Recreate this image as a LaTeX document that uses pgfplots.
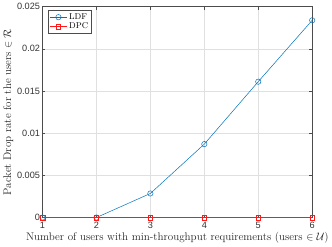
\documentclass[border=0pt]{standalone}
\usepackage{pgfplots}
\pgfplotsset{compat=1.18}
\usepackage{fontspec}
\newfontfamily\tickfont{Liberation Sans}
\definecolor{mblue}{rgb}{0,0.447,0.741}
\definecolor{mred}{rgb}{1,0.1,0.1}
\begin{document}
\begin{tikzpicture}
\begin{axis}[
  scale only axis,
  width=271pt, height=212pt,
  xmin=1, xmax=6, ymin=0, ymax=0.025,
  xtick={1,2,3,4,5,6},
  ytick={0,0.005,0.01,0.015,0.02,0.025},
  scaled y ticks=false,
  yticklabel style={/pgf/number format/fixed,/pgf/number format/precision=3, xshift=1pt},
  xticklabel style={yshift=-1pt},
  /pgf/number format/assume math mode=true,
  ticklabel style={font=\tickfont\fontsize{9.2}{10}\selectfont, text=black!80},
  tick align=inside,
  major tick length=3pt,
  tick style={black!70, line width=0.4pt},
  axis line style={black!70, line width=0.5pt},
  grid=major,
  grid style={black!12, line width=0.4pt},
  xlabel={Number of users with min-throughput requirements (users $\in\mathcal{U}$)},
  ylabel={Packet Drop rate for the users $\in\mathcal{R}$},
  label style={font=\fontsize{11.1}{12}\selectfont, text=black!85},
  xlabel style={yshift=3pt},
  ylabel style={yshift=-3pt},
  legend style={at={(0.022,0.982)}, anchor=north west, font=\fontsize{8.5}{9}\selectfont, draw=black!70, line width=0.4pt, inner sep=1pt, row sep=-2pt},
  legend cell align=left,
  clip=false,
]
\addplot[mblue, line width=0.5pt, mark=o, mark size=2.7pt, mark options={solid}] coordinates {
(1,0) (2,0) (3,0.00285) (4,0.0087) (5,0.0161) (6,0.02337)};
\addlegendentry{LDF}
\addplot[mred, line width=0.6pt, mark=square, mark size=2.3pt] coordinates {
(1,0) (2,0) (3,0) (4,0) (5,0) (6,0)};
\addlegendentry{DPC}
\end{axis}
\end{tikzpicture}
\end{document}
